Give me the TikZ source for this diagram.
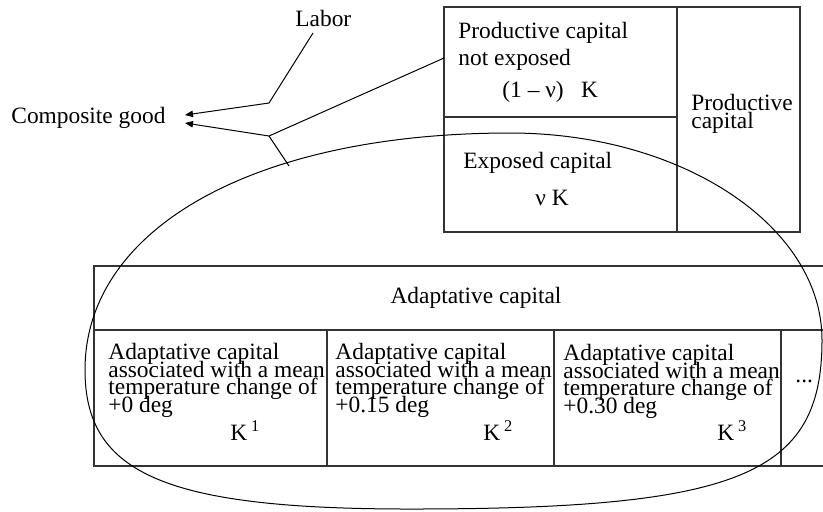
\documentclass[tikz,border=0pt]{standalone}
\usepackage{fontspec}
\setmainfont{Liberation Serif}
\usepackage{tikz}
\usetikzlibrary{arrows.meta}

% tight line spacing, lines may touch
\newcommand{\tightlines}[1]{\fontsize{11.7}{#1}\selectfont\lineskiplimit=-\maxdimen}

\tikzset{
  txt/.style={inner sep=0pt, anchor=base west, align=left,
    font=\tightlines{8.7}},
  frame/.style={draw=black!80, line width=0.6pt},
  link/.style={line width=0.5pt, -{Triangle[length=4pt, width=3.2pt]}}
}

\begin{document}
\begin{tikzpicture}[x=0.5pt, y=-0.5pt]
    \useasboundingbox (0,0) rectangle (823,511);

    % Productive capital box
    \draw[frame] (444,7) rectangle (800,232);
    \draw[frame] (677,7) -- (677,232);
    \draw[frame] (444,117) -- (677,117);
    % (multi-line nodes sit on their last baseline)
    \node[txt, font=\tightlines{13.5}] (notexp) at (458,65) {Productive capital\\not exposed};
    \node[txt] (notexpK) at (502,97) {(1 – ν) \ \ K};
    \node[txt] (exposed) at (463,168) {Exposed capital};
    \node[txt] (exposedK) at (535,205) {ν K};
    \node[txt, font=\tightlines{9}] (prodcap) at (691,128) {Productive\\capital};

    % Adaptative capital table (open on the right)
    \draw[frame] (823,266) -- (94,266) -- (94,466) -- (823,466);
    \draw[frame] (94,330) -- (823,330);
    \foreach \x in {327, 554, 781} {
      \draw[frame] (\x,330) -- (\x,466);
    }
    \node[txt, anchor=base] (adapt) at (476,303) {Adaptative capital};
    \node[txt] (cellA) at (108,412) {Adaptative capital\\associated with a mean\\temperature change of\\+0 deg};
    \node[txt] (cellB) at (335,412) {Adaptative capital\\associated with a mean\\temperature change of\\+0.15 deg};
    \node[txt] (cellC) at (563,413) {Adaptative capital\\associated with a mean\\temperature change of\\+0.30 deg};
    \node[txt] (kA) at (230,440) {K\,\textsuperscript{1}};
    \node[txt] (kB) at (483,440) {K\,\textsuperscript{2}};
    \node[txt] (kC) at (717,440) {K\,\textsuperscript{3}};
    \node[txt] (more) at (795,382) {...};

    % Closed loop around exposed and adaptative capital
    \draw[line width=0.5pt] (85,370)
      .. controls (85,228) and (255,133) .. (510,133)
      .. controls (682,133) and (822,226) .. (822,340)
      .. controls (822,475) and (740,509) .. (410,509)
      .. controls (166,509) and (85,474) .. cycle;

    % Inputs of the composite good
    \node[txt] (labor) at (295,26) {Labor};
    \node[txt] (composite) at (11,123) {Composite good};
    \coordinate (labend) at (313,33);
    \coordinate (labbend) at (269,103);
    \coordinate (tipA) at (185,115);
    \coordinate (capend) at (444,58);
    \coordinate (capbend) at (269,136);
    \coordinate (tipB) at (185,123);
    \coordinate (ellend) at (289,166);

    \draw[link] (labend) -- (labbend) -- (tipA);
    \draw[link] (capend) -- (capbend) -- (tipB);
    \draw[line width=0.5pt] (capbend) -- (ellend);
\end{tikzpicture}
\end{document}
